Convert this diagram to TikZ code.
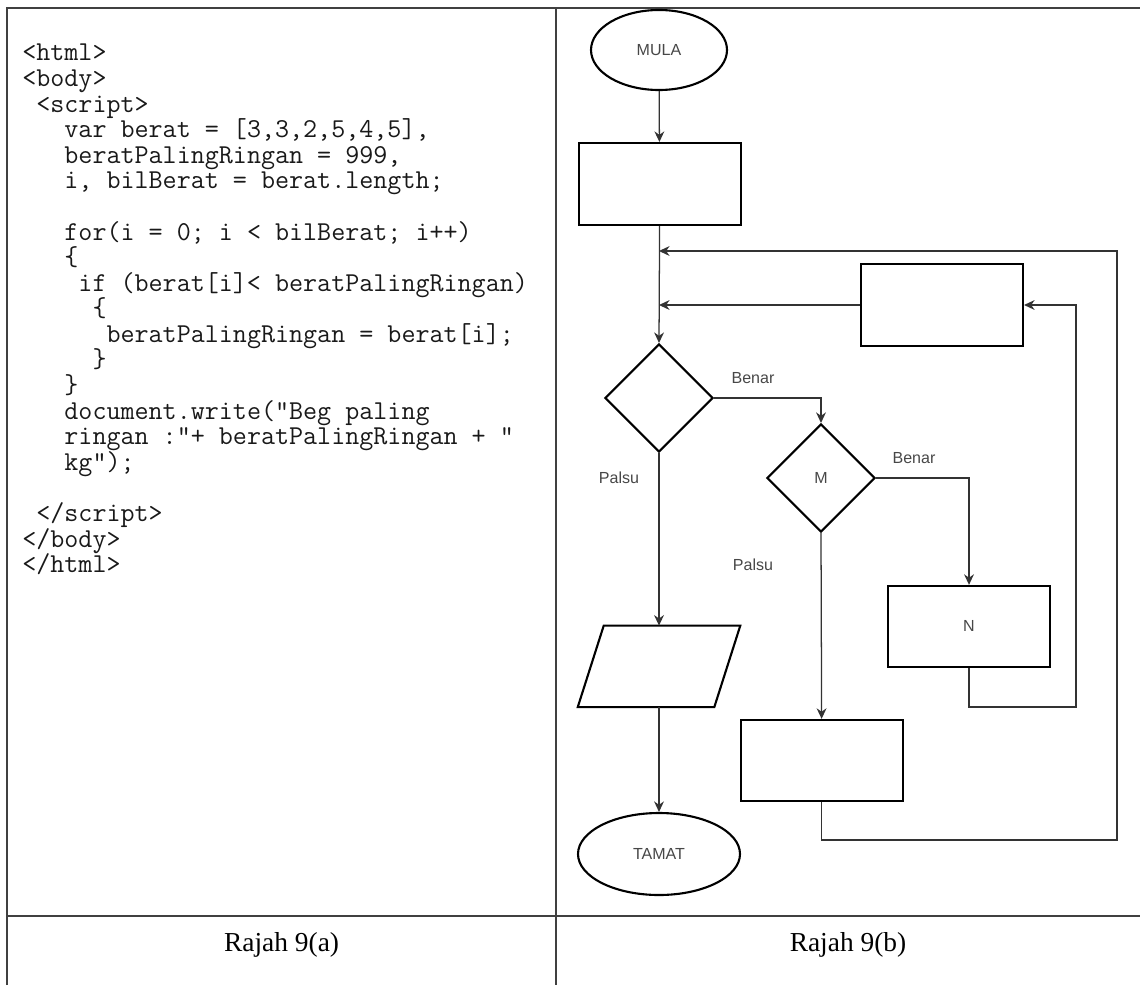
\documentclass[tikz,border=0pt]{standalone}
\usepackage{fontspec}
\setmainfont{Liberation Serif}
\setsansfont{Liberation Sans}
\usetikzlibrary{shapes.geometric,arrows.meta}

\begin{document}
\begin{tikzpicture}[
  every node/.style={font=\sffamily\fontsize{11.4}{13}\selectfont, text=black!72},
  box/.style={draw=black, line width=1.5pt, minimum width=4.05cm, minimum height=2.05cm, inner sep=0pt},
  term/.style={ellipse, draw=black, line width=1.5pt, inner sep=0pt},
  dec/.style={diamond, draw=black, line width=1.5pt, minimum width=2.7cm, minimum height=2.7cm, inner sep=0pt},
  link/.style={draw=black!80, line width=0.9pt},
  arr/.style={link, -{Stealth[length=7.5pt, width=7pt]}},
  rule/.style={draw=black!75, line width=1.2pt},
  code/.style={font=\ttfamily\fontsize{19.4}{18.2}\selectfont, text=black!90, align=left, inner sep=0pt},
  rajah/.style={font=\rmfamily\fontsize{19.5}{22}\selectfont, text=black}
]
\useasboundingbox (0,0) rectangle (28.5,-24.625);

% table
\draw[rule] (0.175,-24.625) -- (0.175,-0.2) -- (28.5,-0.2);
\draw[rule] (13.9,-0.2) -- (13.9,-24.625);
\draw[rule] (0.175,-22.9) -- (28.5,-22.9);

\node[rajah] (capa) at (7.04,-23.62) {Rajah 9(a)};
\node[rajah] (capb) at (21.2,-23.62) {Rajah 9(b)};

% Rajah 9(a)
\node[code, anchor=north west] (src) at (0.55,-1.1)
{<html>\\
<body>\\
\hphantom{x}<script>\\
\hphantom{xxx}var berat = [3,3,2,5,4,5],\\
\hphantom{xxx}beratPalingRingan = 999,\\
\hphantom{xxx}i, bilBerat = berat.length;\\
\mbox{}\\
\hphantom{xxx}for(i = 0; i < bilBerat; i++)\\
\hphantom{xxx}\{\\
\hphantom{xxxx}if (berat[i]< beratPalingRingan)\\
\hphantom{xxxxx}\{\\
\hphantom{xxxxxx}beratPalingRingan = berat[i];\\
\hphantom{xxxxx}\}\\
\hphantom{xxx}\}\\
\hphantom{xxx}document.write("Beg paling\\
\hphantom{xxx}ringan :"+ beratPalingRingan + "\\
\hphantom{xxx}kg");\\
\mbox{}\\
\hphantom{x}</script>\\
</body>\\
</html>};

% Rajah 9(b)
\node[term, minimum width=3.4cm, minimum height=2cm] (mula) at (16.475,-1.25) {MULA};
\node[box] (init) at (16.49,-4.6) {};
\node[dec] (d1) at (16.475,-9.95) {};
\node[dec] (d2) at (20.525,-11.95) {M};
\node[box] (upd) at (23.55,-7.625) {};
\node[box, minimum height=2.025cm] (nbox) at (24.225,-15.66) {N};
\node[box, minimum height=2.025cm] (r4) at (20.54,-19.01) {};
\node[inner sep=0pt, minimum width=3.4cm, minimum height=2.025cm] (out) at (16.475,-16.66) {};
\draw[black, line width=1.5pt] ([xshift=0.325cm]out.north west) -- ([xshift=0.325cm]out.north east)
  -- ([xshift=-0.325cm]out.south east) -- ([xshift=-0.325cm]out.south west) -- cycle;
\node[term, minimum width=4.05cm, minimum height=2.05cm] (tamat) at (16.475,-21.35) {TAMAT};

\node (benar1) at (18.825,-9.45) {Benar};
\node (benar2) at (22.85,-11.45) {Benar};
\node (palsu1) at (15.475,-11.95) {Palsu};
\node (palsu2) at (18.825,-14.125) {Palsu};

\coordinate (j1) at (16.475,-6.275);
\coordinate (c1) at (26.9,-17.675);
\coordinate (c2) at (27.925,-21.0);

\draw[arr] (mula) -- (init);
\draw[arr] (init.south) -- (d1.north);
\draw[arr] (upd.west) -- (upd.west -| d1.north);
\draw[arr] (d1.east) -| (d2.north);
\draw[arr] (d2.east) -| (nbox.north);
\draw[arr] (d2.south) -- (r4.north);
\draw[arr] (nbox.south) |- (c1) |- (upd.east);
\draw[arr] (r4.south) |- (c2) |- (j1);
\draw[arr] (d1.south) -- (out.north);
\draw[arr] (out.south) -- (tamat.north);
\end{tikzpicture}
\end{document}
